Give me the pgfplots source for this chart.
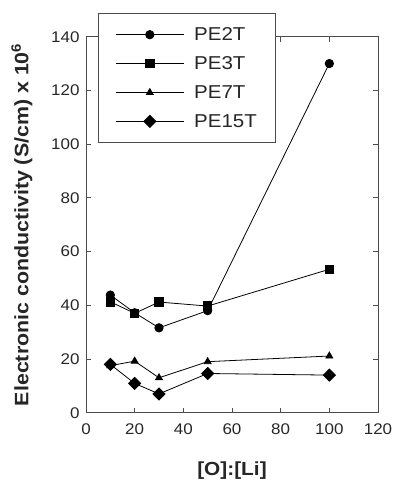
\documentclass[border=0pt]{standalone}
\usepackage{pgfplots}
\pgfplotsset{compat=1.18}
\usepackage{fontspec}
\setmainfont{Liberation Sans}[FakeStretch=1.1]
\begin{document}
\begin{tikzpicture}
\begin{axis}[
  scale only axis,
  width=292bp, height=376bp,
  xmin=0, xmax=120, ymin=0, ymax=140,
  xtick={0,20,...,120}, ytick={0,20,...,140},
  tick align=inside,
  major tick length=5bp,
  axis line style={draw=black!70, line width=0.9pt},
  every tick/.style={black!70, line width=0.9pt},
  tick label style={font=\fontsize{15.5}{17}\selectfont, text=black!85},
  xticklabel style={yshift=-7bp},
  yticklabel style={xshift=-3bp},
  /pgf/number format/assume math mode=true,
  xlabel={\fontsize{19}{21}\selectfont\bfseries [O]:[Li]},
  ylabel={\fontsize{19.5}{22}\selectfont\bfseries Electronic conductivity (S/cm) x 10\textsuperscript{6}},
  xlabel style={yshift=-21bp, text=black!85},
  ylabel style={yshift=12bp, text=black!85},
  legend style={at={(rel axis cs:0.041,1.063)}, anchor=north west,
    draw=black!70, line width=0.9pt, fill=white,
    font=\fontsize{18.7}{21}\selectfont,
    inner xsep=17bp, inner ysep=12bp,
    row sep=10.5bp,
    /tikz/every odd column/.append style={column sep=8bp},
    nodes={text=black!85}},
  legend cell align=left,
  legend image code/.code={\draw[mark repeat=2,mark phase=2,#1] plot coordinates {(0bp,0bp) (34bp,0bp) (68bp,0bp)};},
  every axis plot/.append style={black, line width=0.8pt},
]
\addplot[mark=*, mark size=4.2bp] coordinates {(10,43.8) (20,37.2) (30,31.6) (50,38) (100,130)};
\addlegendentry{PE2T}
\addplot[mark=square*, mark size=4.2bp] coordinates {(10,41.3) (20,37) (30,41.2) (50,39.7) (100,53.4)};
\addlegendentry{PE3T}
\addplot[mark=triangle*, mark size=4bp] coordinates {(10,17.5) (20,19.2) (30,13) (50,19) (100,21.1)};
\addlegendentry{PE7T}
\addplot[mark=square*, mark options={rotate=45}, mark size=4.3bp] coordinates {(10,18) (20,10.9) (30,7) (50,14.6) (100,14)};
\addlegendentry{PE15T}
\end{axis}
\pgfresetboundingbox
\path[use as bounding box] ([shift={(-86bp,-68.3bp)}]current axis.south west) rectangle ([shift={(18.3bp,36.7bp)}]current axis.north east);
\end{tikzpicture}
\end{document}
